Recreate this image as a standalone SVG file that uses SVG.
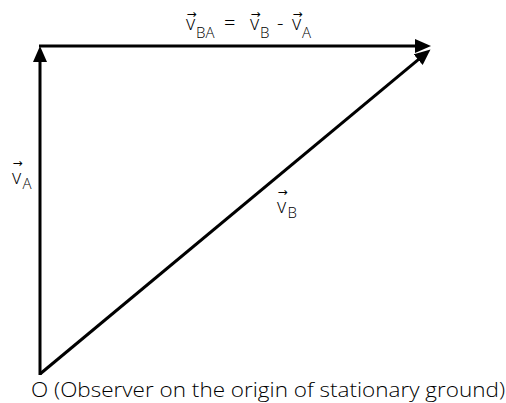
<svg xmlns="http://www.w3.org/2000/svg" width="506" height="403" viewBox="0 0 506 403">
<style>
.ln{stroke:#000;stroke-width:3;fill:none}
.t{font-family:"Open Sans","Liberation Sans",sans-serif;font-weight:300;fill:#000}
.v{font-size:20px}
.s{font-size:15px}
.ar{font-family:"DejaVu Sans",sans-serif;font-size:12px;text-anchor:middle;fill:#000}
</style>
<defs>
<marker id="ah" markerUnits="userSpaceOnUse" markerWidth="18" markerHeight="16" refX="6" refY="7" orient="auto">
<path d="M0,0 L16,7 L0,14 z" fill="#000"/>
</marker>
</defs>
<rect width="506" height="403" fill="#fff"/>
<g id="connectors">
<path class="ln" d="M40,375 L40,56" marker-end="url(#ah)"/>
<path class="ln" d="M39,46 L421,46" marker-end="url(#ah)"/>
<path class="ln" d="M40,374 L422.8,55.9" marker-end="url(#ah)"/>
</g>
<g id="label-vBA">
<text class="t v" x="186" y="30">v</text>
<text class="ar" x="191.5" y="18">→</text>
<text class="t s" x="196" y="37.5">BA</text>
<text class="t v" x="224" y="30">=</text>
<text class="t v" x="250" y="30">v</text>
<text class="ar" x="255.5" y="18">→</text>
<text class="t s" x="260" y="37.5">B</text>
<text class="t v" x="277" y="30">-</text>
<text class="t v" x="292" y="30">v</text>
<text class="ar" x="297.5" y="18">→</text>
<text class="t s" x="302" y="37.5">A</text>
</g>
<g id="label-vA">
<text class="t v" x="12" y="184">v</text>
<text class="ar" x="17.5" y="167">→</text>
<text class="t s" x="22.5" y="189">A</text>
</g>
<g id="label-vB">
<text class="t v" x="277" y="213">v</text>
<text class="ar" x="282.5" y="196">→</text>
<text class="t s" x="287.5" y="218">B</text>
</g>
<g id="origin">
<text class="t" x="31" y="397" font-size="20" textLength="474" lengthAdjust="spacingAndGlyphs">O (Observer on the origin of stationary ground)</text>
</g>
</svg>
